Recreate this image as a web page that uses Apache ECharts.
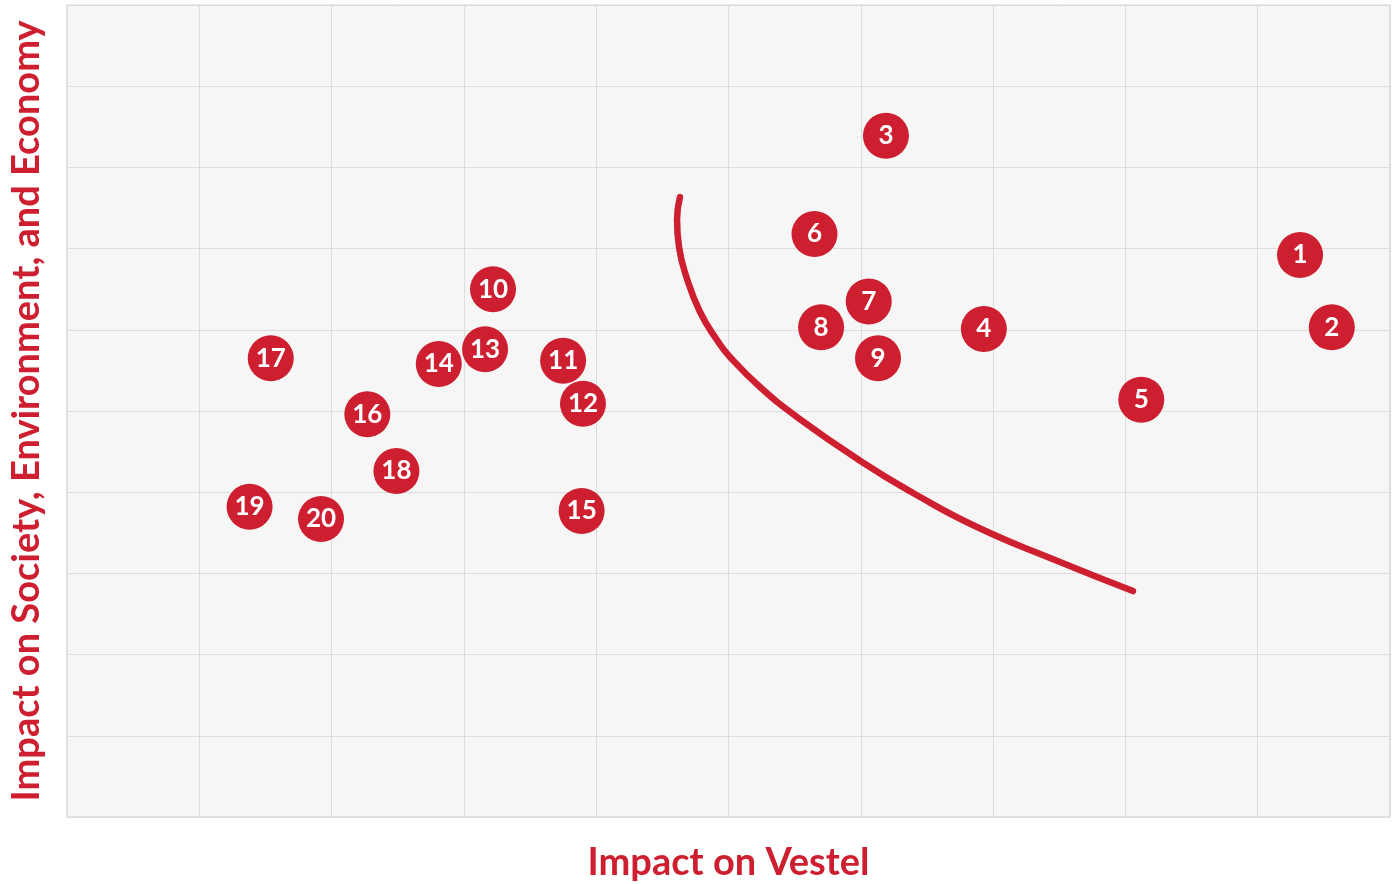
<!DOCTYPE html>
<html><head><meta charset="utf-8">
<script src="https://cdn.jsdelivr.net/npm/echarts@6/dist/echarts.min.js"></script>
<style>html,body{margin:0;padding:0;background:#fff}#c{width:1398px;height:884px}</style>
</head><body><div id="c"></div>
<script>
const labels = ['1','2','3','4','5','6','7','8','9','10','11','12','13','14','15','16','17','18','19','20'];
const xVals = [9.32,9.56,6.19,6.93,8.12,5.65,6.06,5.70,6.13,3.22,3.75,3.90,3.16,2.81,3.89,2.27,1.54,2.49,1.38,1.92];
const yVals = [6.92,6.03,8.39,6.01,5.14,7.18,6.35,6.03,5.65,6.50,5.62,5.09,5.76,5.58,3.77,4.96,5.65,4.26,3.82,3.67];
const curveX = [4.633,4.611,4.626,4.687,4.785,4.913,5.011,5.238,5.518,6.009,6.395,6.878,7.468,8.057];
const curveY = [7.635,7.352,7.020,6.626,6.219,5.874,5.665,5.296,4.926,4.372,3.990,3.571,3.165,2.783];
const xTitle = 'Impact on Vestel';
const yTitle = 'Impact on Society, Environment, and Economy';
const RED = '#cd1f30';
const pts = labels.map((l,i)=>({value:[xVals[i],yVals[i]], name:l}));
const curve = curveX.map((x,i)=>[x,curveY[i]]);
const chart = echarts.init(document.getElementById('c'));
chart.setOption({
  animation:false,
  grid:{left:67,top:5,right:8,bottom:67,outerBoundsMode:'none',containLabel:false,show:true,backgroundColor:'#f6f6f6',borderColor:'#cfcfcf',borderWidth:1},
  xAxis:{type:'value',min:0,max:10,interval:1,name:xTitle,nameLocation:'middle',nameGap:27,
    nameTextStyle:{color:RED,fontSize:38,fontWeight:'bold',fontFamily:'Lato'},
    axisLine:{show:false},axisTick:{show:false},axisLabel:{show:false},
    splitLine:{lineStyle:{color:'#dcdcdc',width:1}}},
  yAxis:{type:'value',min:0,max:10,interval:1,name:yTitle,nameLocation:'middle',nameGap:21,
    nameTextStyle:{color:RED,fontSize:38,fontWeight:'bold',fontFamily:'Lato'},
    axisLine:{show:false},axisTick:{show:false},axisLabel:{show:false},
    splitLine:{lineStyle:{color:'#dcdcdc',width:1}}},
  series:[
    {type:'line',data:curve,smooth:0.5,showSymbol:false,symbol:'none',
     lineStyle:{color:RED,width:6.5,cap:'round',join:'round'},z:2},
    {type:'scatter',data:pts,symbolSize:46,itemStyle:{color:RED,opacity:1},z:3,
     label:{show:true,position:'inside',formatter:p=>p.name,color:'#fff',fontSize:26,fontWeight:'bold',fontFamily:'Lato'}}
  ]
});
</script></body></html>
